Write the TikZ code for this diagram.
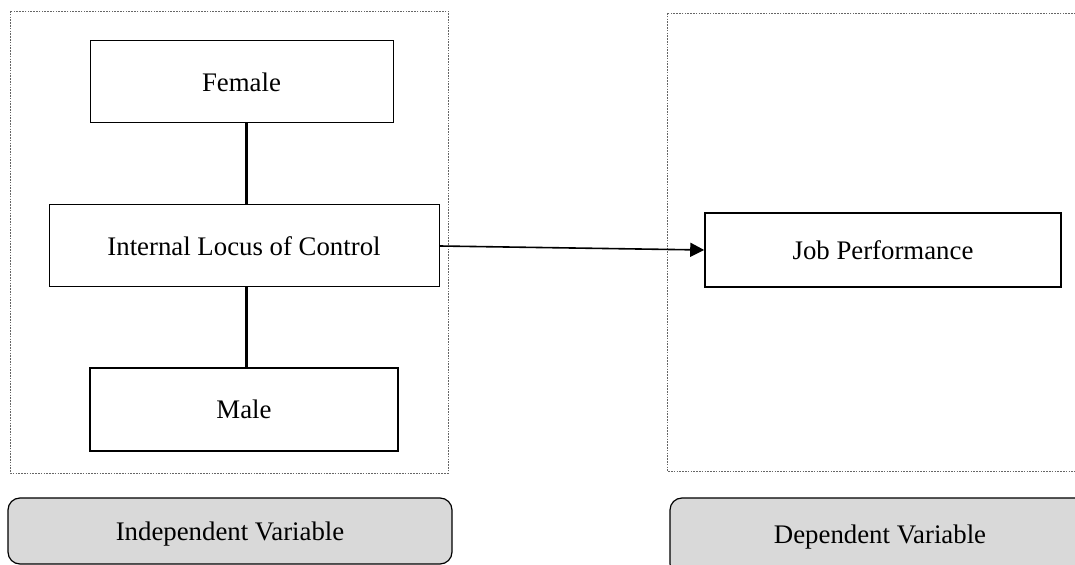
\documentclass[tikz,border=0pt]{standalone}
\usepackage{fontspec}
\setmainfont{Liberation Serif}
\usetikzlibrary{arrows.meta}
\begin{document}
\begin{tikzpicture}[x=0.5pt, y=-0.5pt,
  box/.style={draw, line width=0.5pt, inner sep=0pt, font=\fontsize{13.4}{15}\selectfont},
  thickbox/.style={box, line width=1pt},
  varbox/.style={box, fill=gray!30, rounded corners=6pt, line width=0.6pt},
  group/.style={draw=gray!80!black, line width=0.4pt, dash pattern=on 0.8pt off 0.6pt},
  link/.style={line width=1.5pt},
  flow/.style={line width=0.8pt, -{Triangle[length=7pt, width=7pt]}}]
\useasboundingbox (0,0) rectangle (1075,565);
\clip (0,0) rectangle (1075,565);
% groups
\draw[group] (10,11) rectangle (448,473);
\draw[group] (667,13) rectangle (1095,471);
% independent side
\node[box, minimum width=151.5pt, minimum height=41pt] (female) at (241.5,82) {Female};
\node[box, minimum width=195pt, minimum height=41pt] (ilc) at (244,246) {Internal Locus of Control};
\node[thickbox, minimum width=154pt, minimum height=41.5pt] (male) at (244,409.5) {Male};
\draw[link] (female.south -| 246,0) -- (ilc.north -| 246,0);
\draw[link] (ilc.south -| 246,0) -- (male.north -| 246,0);
% dependent side
\node[thickbox, line width=0.8pt, minimum width=178pt, minimum height=37pt] (jobperf) at (883,250) {Job Performance};
\draw[flow] (ilc.east) -- (jobperf.west);
% labels
\node[varbox, minimum width=222pt, minimum height=33pt, text depth=-3pt] (indep) at (230,531) {Independent Variable};
\node[varbox, minimum width=210pt, minimum height=39pt] (dep) at (880,537) {Dependent Variable};
\end{tikzpicture}
\end{document}
